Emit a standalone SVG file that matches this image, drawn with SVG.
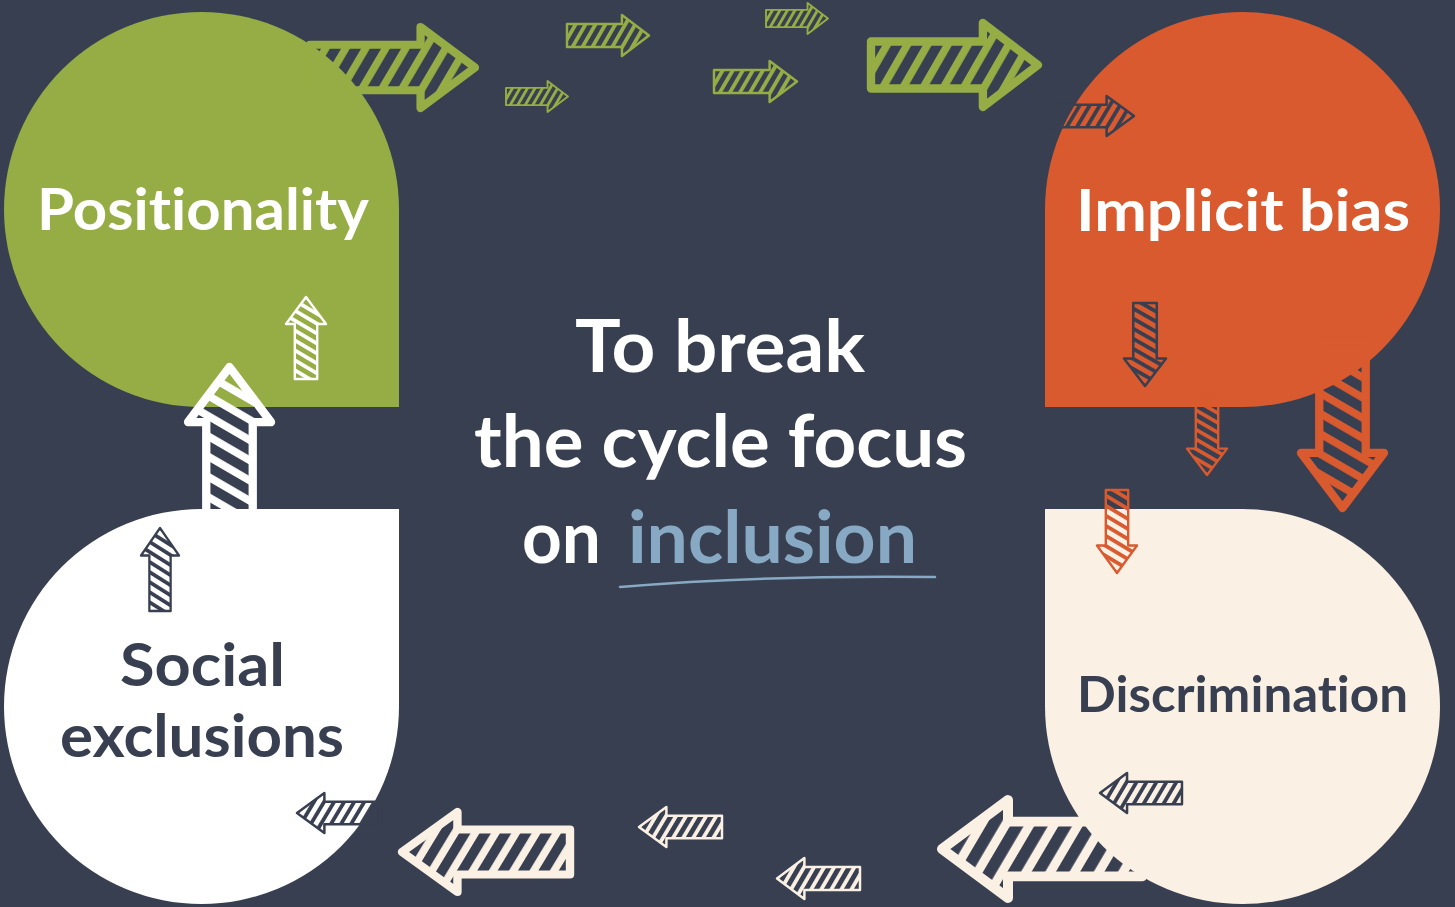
<svg xmlns="http://www.w3.org/2000/svg" width="1455" height="907" viewBox="0 0 1455 907">
<style>
.lbl{font-family:Lato,"Liberation Sans",sans-serif;font-weight:700;font-variant-ligatures:none}
.arr{stroke-linejoin:round;stroke-linecap:round;vector-effect:non-scaling-stroke}
.big{stroke-width:5}
.sm{stroke-width:3}
.g{stroke:#95AD44;fill:url(#pg)}
.d{stroke:#383F51;fill:url(#pd)}
.o{stroke:#D95A2E;fill:url(#po)}
.c{stroke:#FAF0E3;fill:url(#pc)}
.w{stroke:#FFFFFF;fill:url(#pw)}
</style>
<defs>
<path id="ar" d="M0,-14 L67,-14 L67,-25 L100,0 L67,25 L67,14 L0,14 Z"/>
<pattern id="pg" patternUnits="userSpaceOnUse" width="10.5" height="10.5" patternTransform="rotate(30)"><rect width="4.6" height="10.5" fill="#95AD44"/></pattern>
<pattern id="pd" patternUnits="userSpaceOnUse" width="10.5" height="10.5" patternTransform="rotate(30)"><rect width="4.6" height="10.5" fill="#383F51"/></pattern>
<pattern id="po" patternUnits="userSpaceOnUse" width="10.5" height="10.5" patternTransform="rotate(30)"><rect width="4.6" height="10.5" fill="#D95A2E"/></pattern>
<pattern id="pc" patternUnits="userSpaceOnUse" width="10.5" height="10.5" patternTransform="rotate(30)"><rect width="4.6" height="10.5" fill="#FAF0E3"/></pattern>
<pattern id="pw" patternUnits="userSpaceOnUse" width="10.5" height="10.5" patternTransform="rotate(30)"><rect width="4.6" height="10.5" fill="#FFFFFF"/></pattern>
</defs>
<rect width="1455" height="907" fill="#383F51"/>

<g id="positionality">
<path d="M4,209.5 A197.5,197.5 0 0 1 399,209.5 L399,407 L201.5,407 A197.5,197.5 0 0 1 4,209.5 Z" fill="#95AD44"/>
</g>
<g id="implicit-bias">
<path d="M1045,209.5 A197.5,197.5 0 0 1 1440,209.5 A197.5,197.5 0 0 1 1242.5,407 L1045,407 Z" fill="#D95A2E"/>
</g>
<g id="social-exclusions">
<path d="M201.5,509 L399,509 L399,706.5 A197.5,197.5 0 0 1 4,706.5 A197.5,197.5 0 0 1 201.5,509 Z" fill="#FFFFFF"/>
</g>
<g id="discrimination">
<path d="M1045,509 L1242.5,509 A197.5,197.5 0 0 1 1440,706.5 A197.5,197.5 0 0 1 1045,706.5 Z" fill="#FAF0E3"/>
</g>

<g id="connectors">
<!-- right, green -->
<use href="#ar" class="arr big g" transform="translate(310,67.5) scale(1.65,1.62)"/>
<use href="#ar" class="arr sm g" transform="translate(567,35.5) scale(0.82,0.82)"/>
<use href="#ar" class="arr sm g" transform="translate(766,18.5) scale(0.62,0.62)"/>
<use href="#ar" class="arr sm g" transform="translate(506,96.5) scale(0.62,0.62)"/>
<use href="#ar" class="arr sm g" transform="translate(714,81.5) scale(0.83,0.82)"/>
<use href="#ar" class="arr big g" transform="translate(871,65) scale(1.67,1.68)"/>
<use href="#ar" class="arr sm d" transform="translate(1051,116) scale(0.83,0.8)"/>
<!-- down -->
<use href="#ar" class="arr sm d" transform="translate(1145,303) rotate(90) scale(0.83,0.84)"/>
<use href="#ar" class="arr sm o" transform="translate(1207,395) rotate(90) scale(0.8,0.8)"/>
<use href="#ar" class="arr big o" transform="translate(1342.5,341) rotate(90) scale(1.67,1.66)"/>
<use href="#ar" class="arr sm o" transform="translate(1117,490) rotate(90) scale(0.83,0.8)"/>
<!-- left -->
<use href="#ar" class="arr sm d" transform="translate(1182,793) rotate(180) scale(0.82,0.8)"/>
<use href="#ar" class="arr big c" transform="translate(1142,849) rotate(180) scale(2.0,1.96)"/>
<use href="#ar" class="arr sm c" transform="translate(722,827) rotate(180) scale(0.83,0.8)"/>
<use href="#ar" class="arr sm c" transform="translate(860,878.5) rotate(180) scale(0.83,0.82)"/>
<use href="#ar" class="arr big c" transform="translate(570,852) rotate(180) scale(1.68,1.6)"/>
<use href="#ar" class="arr sm d" transform="translate(380,813) rotate(180) scale(0.83,0.8)"/>
<!-- up -->
<use href="#ar" class="arr sm d" transform="translate(160,611) rotate(-90) scale(0.83,0.76)"/>
<use href="#ar" class="arr big w" transform="translate(229.5,534) rotate(-90) scale(1.67,1.66)"/>
<use href="#ar" class="arr sm w" transform="translate(306,379) rotate(-90) scale(0.82,0.8)"/>
</g>

<text class="lbl" x="37" y="230" font-size="58" fill="#FFFFFF" textLength="332" lengthAdjust="spacingAndGlyphs">Positionality</text>
<text class="lbl" x="1076" y="231" font-size="58" fill="#FFFFFF" textLength="334" lengthAdjust="spacingAndGlyphs">Implicit bias</text>
<text class="lbl" x="120" y="686" font-size="60" fill="#383F51" textLength="165" lengthAdjust="spacingAndGlyphs">Social</text>
<text class="lbl" x="60" y="757" font-size="60" fill="#383F51" textLength="284" lengthAdjust="spacingAndGlyphs">exclusions</text>
<text class="lbl" x="1077" y="712" font-size="49" fill="#383F51" textLength="331" lengthAdjust="spacingAndGlyphs">Discrimination</text>

<g id="title">
<text class="lbl" x="575" y="372" font-size="72" fill="#FFFFFF" textLength="290" lengthAdjust="spacingAndGlyphs">To break</text>
<text class="lbl" x="474" y="467" font-size="72" fill="#FFFFFF" textLength="493" lengthAdjust="spacingAndGlyphs">the cycle focus</text>
<text class="lbl" x="522" y="563" font-size="72" fill="#FFFFFF" textLength="79" lengthAdjust="spacingAndGlyphs">on</text>
<text class="lbl" x="628" y="563" font-size="72" fill="#88A9C3" textLength="289" lengthAdjust="spacingAndGlyphs">inclusion</text>
<path d="M620,587 Q760,575 935,577" fill="none" stroke="#88A9C3" stroke-width="2.5" stroke-linecap="round"/>
</g>
</svg>
